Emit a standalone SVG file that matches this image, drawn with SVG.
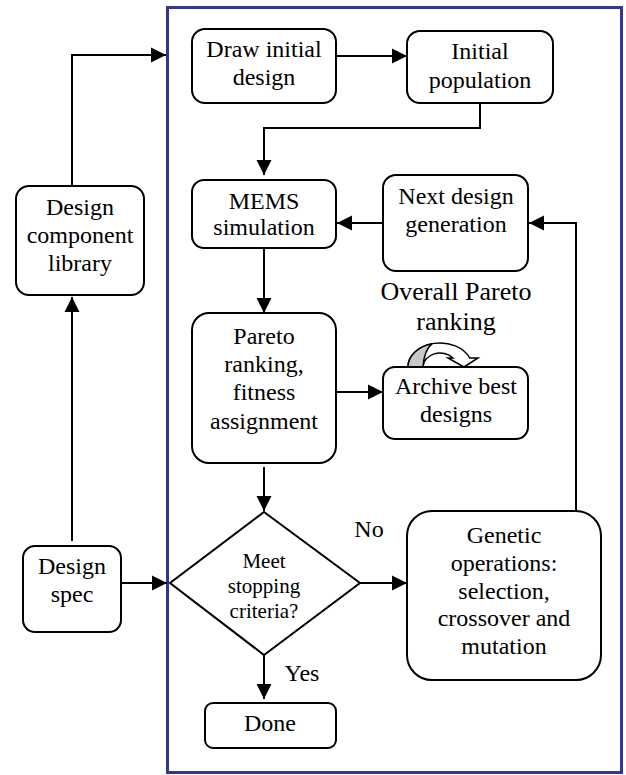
<svg xmlns="http://www.w3.org/2000/svg" width="626" height="775" viewBox="0 0 626 775">
<style>
.box{fill:#fff;stroke:#000;stroke-width:2}
.t{font-family:'Times New Roman','Liberation Serif',Tinos,'DejaVu Serif',serif;font-size:24px;fill:#000;text-anchor:middle}
.s{font-size:21px}
.l{font-size:26px}
.c{fill:none;stroke:#000;stroke-width:2}
</style>
<defs>
<marker id="ah" markerUnits="userSpaceOnUse" markerWidth="16" markerHeight="16" viewBox="0 0 16 16" refX="15" refY="8" orient="auto">
<path d="M0,0.5 L15,8 L0,15.5 Z" fill="#000"/>
</marker>
</defs>
<rect width="626" height="775" fill="#fff"/>
<rect id="frame" x="167.5" y="7.5" width="454" height="765" fill="none" stroke="#333399" stroke-width="3"/>

<g id="connectors">
<path class="c" d="M72,186 V55 H166" marker-end="url(#ah)"/>
<path class="c" d="M72,541 V297" marker-end="url(#ah)"/>
<path class="c" d="M121,583 H167" marker-end="url(#ah)"/>
<path class="c" d="M336,56 H407" marker-end="url(#ah)"/>
<path class="c" d="M480,103 V128 H264 V175" marker-end="url(#ah)"/>
<path class="c" d="M383,223 H337" marker-end="url(#ah)"/>
<path class="c" d="M576,511 V223 H529" marker-end="url(#ah)"/>
<path class="c" d="M264,248 V313" marker-end="url(#ah)"/>
<path class="c" d="M336,392 H383" marker-end="url(#ah)"/>
<path class="c" d="M264,467 V511" marker-end="url(#ah)"/>
<path class="c" d="M360,583 H407" marker-end="url(#ah)"/>
<path class="c" d="M264,655 V699" marker-end="url(#ah)"/>
<text class="t" x="369" y="537">No</text>
<text class="t" x="302" y="681">Yes</text>
</g>

<g id="library">
<rect class="box" x="16" y="186" width="128" height="109" rx="13"/>
<text class="t" x="80" y="215">Design</text>
<text class="t" x="80" y="243">component</text>
<text class="t" x="80" y="271">library</text>
</g>

<g id="spec">
<rect class="box" x="23" y="546" width="98" height="86" rx="12"/>
<text class="t" x="72" y="574">Design</text>
<text class="t" x="72" y="602">spec</text>
</g>

<g id="draw">
<rect class="box" x="192" y="29" width="144" height="74" rx="13"/>
<text class="t" x="264" y="57">Draw initial</text>
<text class="t" x="264" y="85">design</text>
</g>

<g id="initpop">
<rect class="box" x="407" y="31" width="146" height="72" rx="13"/>
<text class="t" x="480" y="59">Initial</text>
<text class="t" x="480" y="88">population</text>
</g>

<g id="mems">
<rect class="box" x="192" y="180" width="144" height="68" rx="12"/>
<text class="t" x="264" y="209">MEMS</text>
<text class="t" x="264" y="235">simulation</text>
</g>

<g id="next">
<rect class="box" x="383" y="175" width="145" height="96" rx="13"/>
<text class="t" x="456" y="204">Next design</text>
<text class="t" x="456" y="232">generation</text>
</g>

<g id="pareto">
<rect class="box" x="192" y="313" width="144" height="150" rx="17"/>
<text class="t" x="264" y="344">Pareto</text>
<text class="t" x="264" y="372">ranking,</text>
<text class="t" x="264" y="400">fitness</text>
<text class="t" x="264" y="429">assignment</text>
</g>

<g id="overall">
<text class="t l" x="456" y="300">Overall Pareto</text>
<text class="t l" x="456" y="330">ranking</text>
<path d="M408,367 A32,24 0 0 1 469.7,358 L478,358 L464,367 L448,358 L453,358 A17,14 0 0 0 423,367 Z" fill="#fff" stroke="#000" stroke-width="1.5"/>
<path d="M408,367 A32,24 0 0 1 432,343.8 Q424,350 423,367 Z" fill="#c8c8c8" stroke="#000" stroke-width="1.5"/>
</g>

<g id="archive">
<rect class="box" x="383" y="367" width="145" height="72" rx="12"/>
<text class="t" x="456" y="394">Archive best</text>
<text class="t" x="456" y="422">designs</text>
</g>

<g id="decision">
<polygon class="box" points="264,512 360,583 264,655 170,583"/>
<text class="t s" x="264" y="568">Meet</text>
<text class="t s" x="264" y="593">stopping</text>
<text class="t s" x="264" y="618">criteria?</text>
</g>

<g id="genetic">
<rect class="box" x="407" y="511" width="194" height="169" rx="25"/>
<text class="t" x="504" y="543">Genetic</text>
<text class="t" x="504" y="571">operations:</text>
<text class="t" x="504" y="599">selection,</text>
<text class="t" x="504" y="626">crossover and</text>
<text class="t" x="504" y="654">mutation</text>
</g>

<g id="done">
<rect class="box" x="205" y="703" width="131" height="45" rx="8"/>
<text class="t" x="270" y="731">Done</text>
</g>
</svg>
